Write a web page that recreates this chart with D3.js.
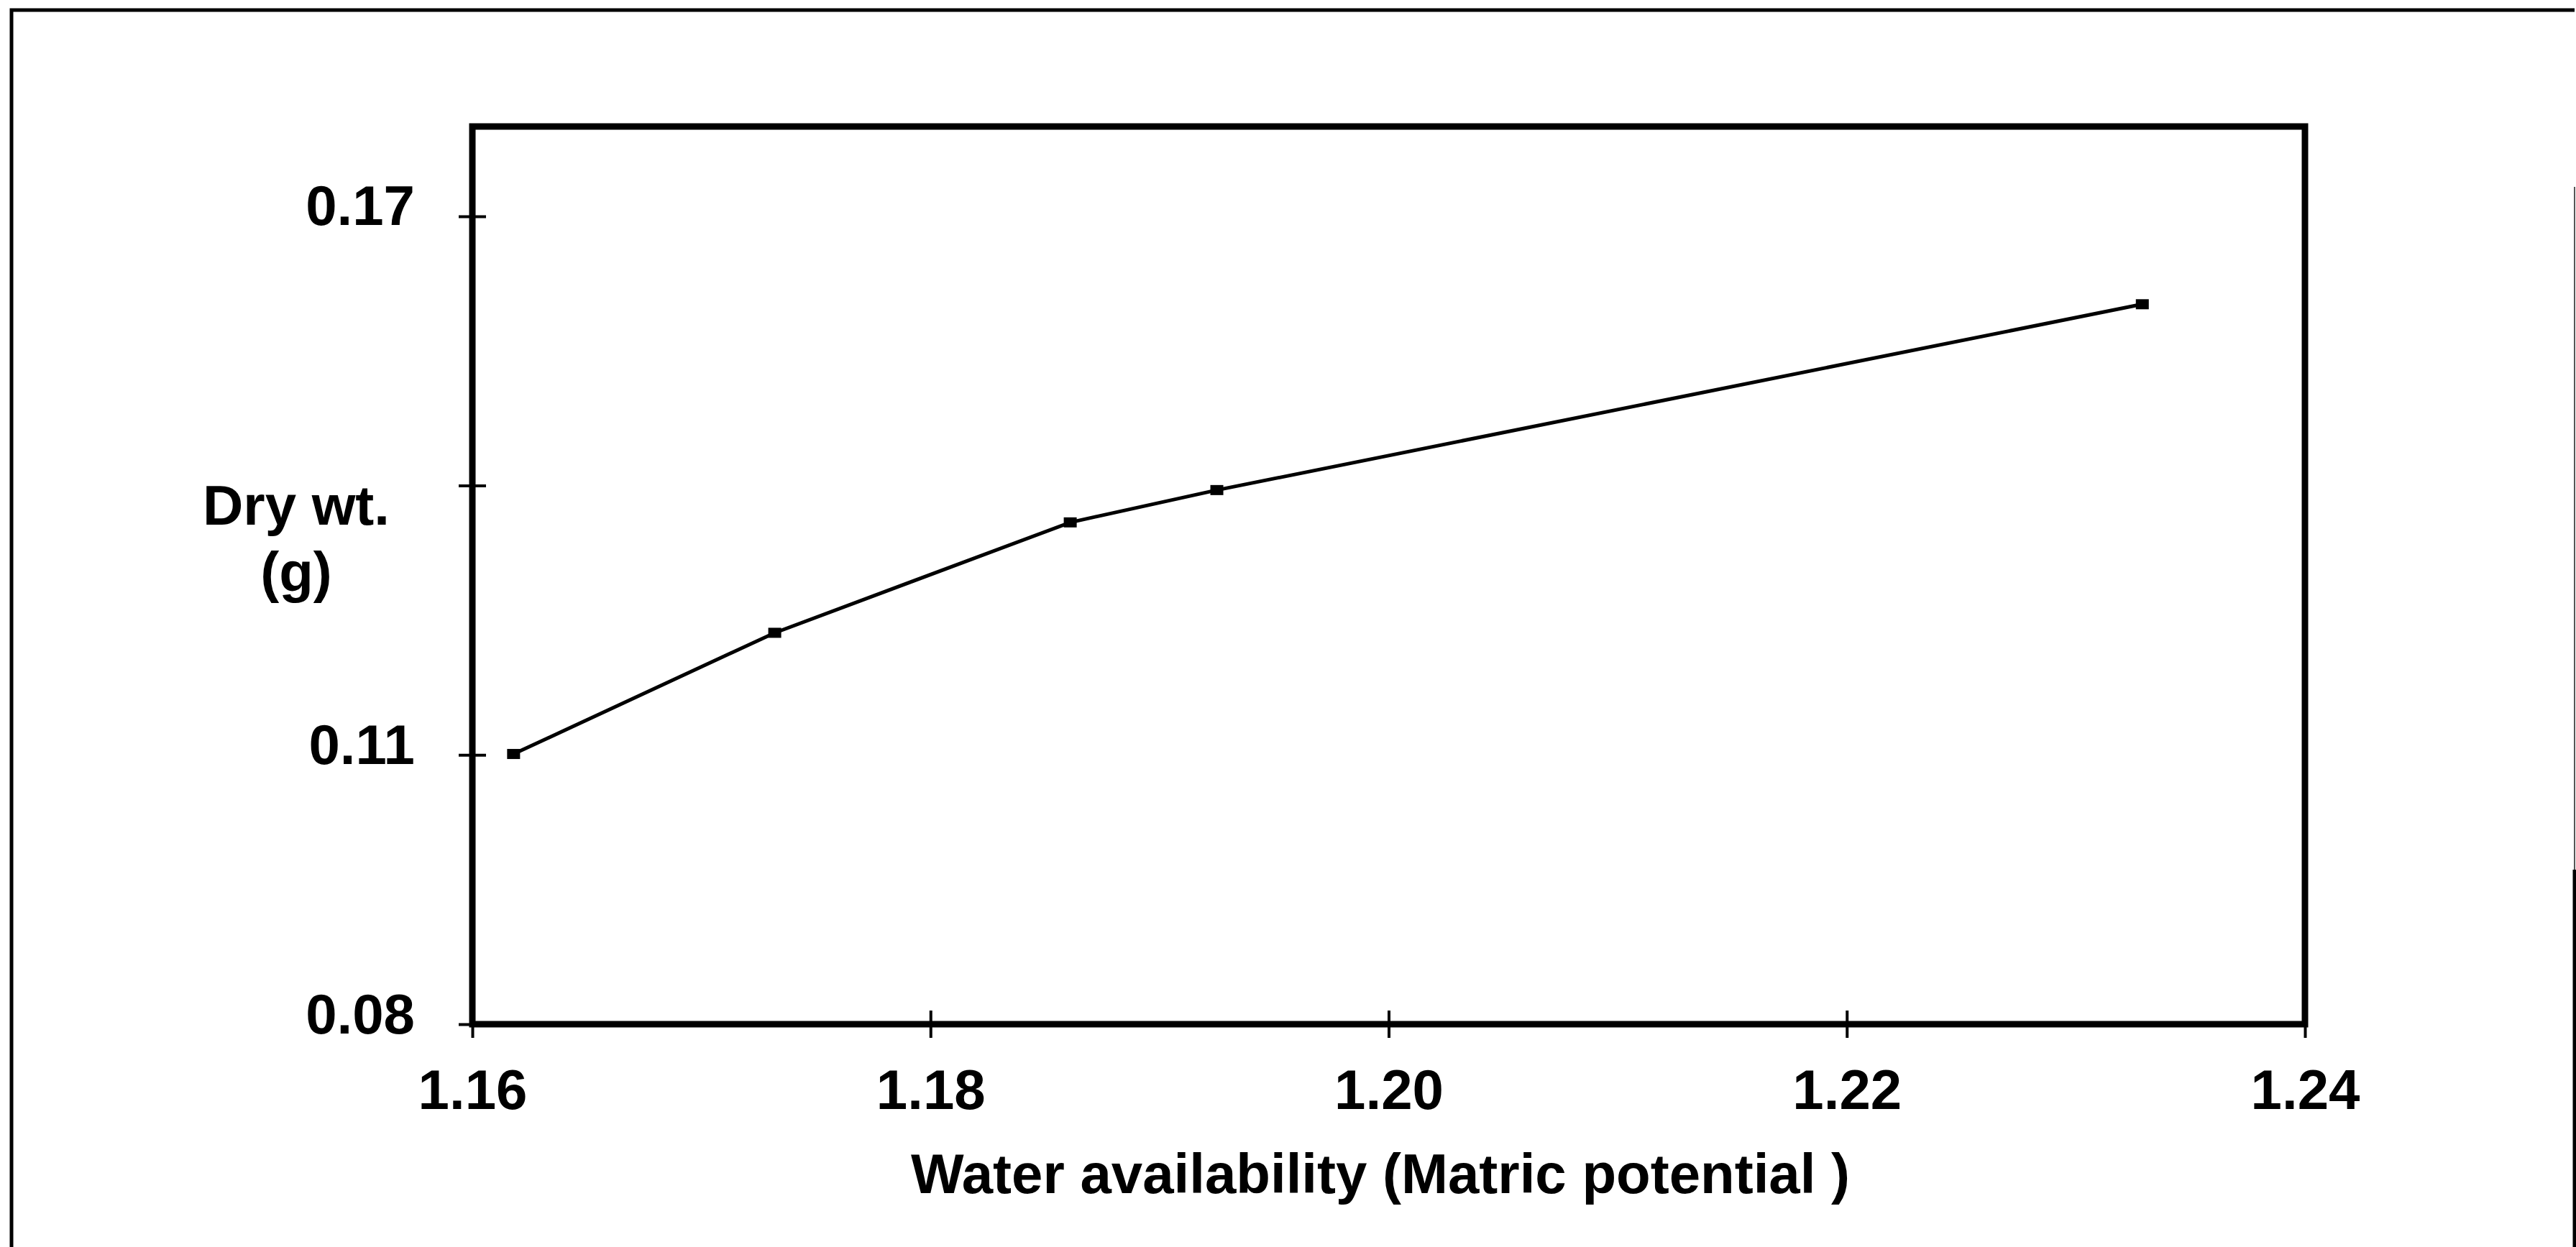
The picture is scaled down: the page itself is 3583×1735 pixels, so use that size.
<!DOCTYPE html>
<html>
<head>
<meta charset="utf-8">
<script src="https://cdn.jsdelivr.net/npm/d3@7"></script>
<style>
  body { margin: 0; background: #fff; }
  svg { display: block; }
  text { font-family: "Liberation Sans", Arial, sans-serif; font-weight: bold; fill: #000; }
</style>
</head>
<body>
<svg id="drawing_region"></svg>
<script>
// values
const waterAvail = [1.1618, 1.1732, 1.1861, 1.1925, 1.2329];
const dryWeight = [0.1101, 0.1236, 0.1359, 0.1395, 0.1602];

const xTickValues = [1.16, 1.18, 1.20, 1.22, 1.24];
const xTickLabels = ['1.16', '1.18', '1.20', '1.22', '1.24'];
const yTickValues = [0.08, 0.11, 0.14, 0.17];
const yTickLabels = ['0.08', '0.11', '', '0.17'];

const xTitle = 'Water availability (Matric potential )';
const yTitle = ['Dry wt.', '(g)'];

var width = 3583;
var height = 1735;
var margin = { top: 176, right: 377, bottom: 310, left: 657 };
var innerW = width - margin.left - margin.right;
var innerH = height - margin.top - margin.bottom;

var svg = d3.select('#drawing_region')
    .attr('width', width)
    .attr('height', height);

// outer page frame (left, top, right)
svg.append('path')
    .attr('d', `M16,${height} L16,14 L3581,14 M3581,1210 L3581,${height}`)
    .attr('fill', 'none')
    .attr('stroke', '#000')
    .attr('stroke-width', 5);
svg.append('line')
    .attr('x1', 3581).attr('y1', 260)
    .attr('x2', 3581).attr('y2', 1210)
    .attr('stroke', '#555')
    .attr('stroke-width', 2);

var g = svg.append('g')
    .attr('transform', `translate(${margin.left}, ${margin.top})`);

const x = d3.scaleLinear().domain([1.16, 1.24]).range([0, innerW]);
const y = d3.scaleLinear().domain([0.08, 0.18]).range([innerH, 0]);

const fontSize = 78;

// x axis
const xAxis = g.append('g')
    .attr('transform', `translate(0, ${innerH})`)
    .call(d3.axisBottom(x)
        .tickValues(xTickValues)
        .tickFormat((d, i) => xTickLabels[i])
        .tickSizeOuter(0));
xAxis.select('.domain').remove();
xAxis.selectAll('.tick line')
    .attr('y1', -19).attr('y2', 19)
    .attr('stroke', '#000').attr('stroke-width', 4);
xAxis.selectAll('.tick text')
    .attr('y', 118).attr('dy', 0)
    .style('font-size', fontSize + 'px');

// y axis
const yAxis = g.append('g')
    .call(d3.axisLeft(y)
        .tickValues(yTickValues)
        .tickFormat((d, i) => yTickLabels[i])
        .tickSizeOuter(0));
yAxis.select('.domain').remove();
yAxis.selectAll('.tick line')
    .attr('x1', -19).attr('x2', 19)
    .attr('stroke', '#000').attr('stroke-width', 4);
yAxis.selectAll('.tick text')
    .attr('x', -80).attr('dy', 12)
    .attr('text-anchor', 'end')
    .style('font-size', fontSize + 'px');

// plot frame
g.append('rect')
    .attr('x', 0).attr('y', 0)
    .attr('width', innerW).attr('height', innerH)
    .attr('fill', 'none')
    .attr('stroke', '#000')
    .attr('stroke-width', 9);

// data line
const pts = waterAvail.map((v, i) => [v, dryWeight[i]]);
const line = d3.line().x(d => x(d[0])).y(d => y(d[1]));

g.append('path')
    .datum(pts)
    .attr('d', line)
    .attr('fill', 'none')
    .attr('stroke', '#000')
    .attr('stroke-width', 5);

g.selectAll('.marker')
    .data(pts)
    .enter()
    .append('rect')
    .attr('class', 'marker')
    .attr('x', d => x(d[0]) - 9)
    .attr('y', d => y(d[1]) - 7)
    .attr('width', 18)
    .attr('height', 14)
    .attr('fill', '#000');

// titles
svg.append('text')
    .attr('x', 1920)
    .attr('y', 1660)
    .attr('text-anchor', 'middle')
    .style('font-size', fontSize + 'px')
    .text(xTitle);

svg.selectAll('.ytitle')
    .data(yTitle)
    .enter()
    .append('text')
    .attr('class', 'ytitle')
    .attr('x', 412)
    .attr('y', (d, i) => 730 + i * 93)
    .attr('text-anchor', 'middle')
    .style('font-size', fontSize + 'px')
    .text(d => d);
</script>
</body>
</html>
